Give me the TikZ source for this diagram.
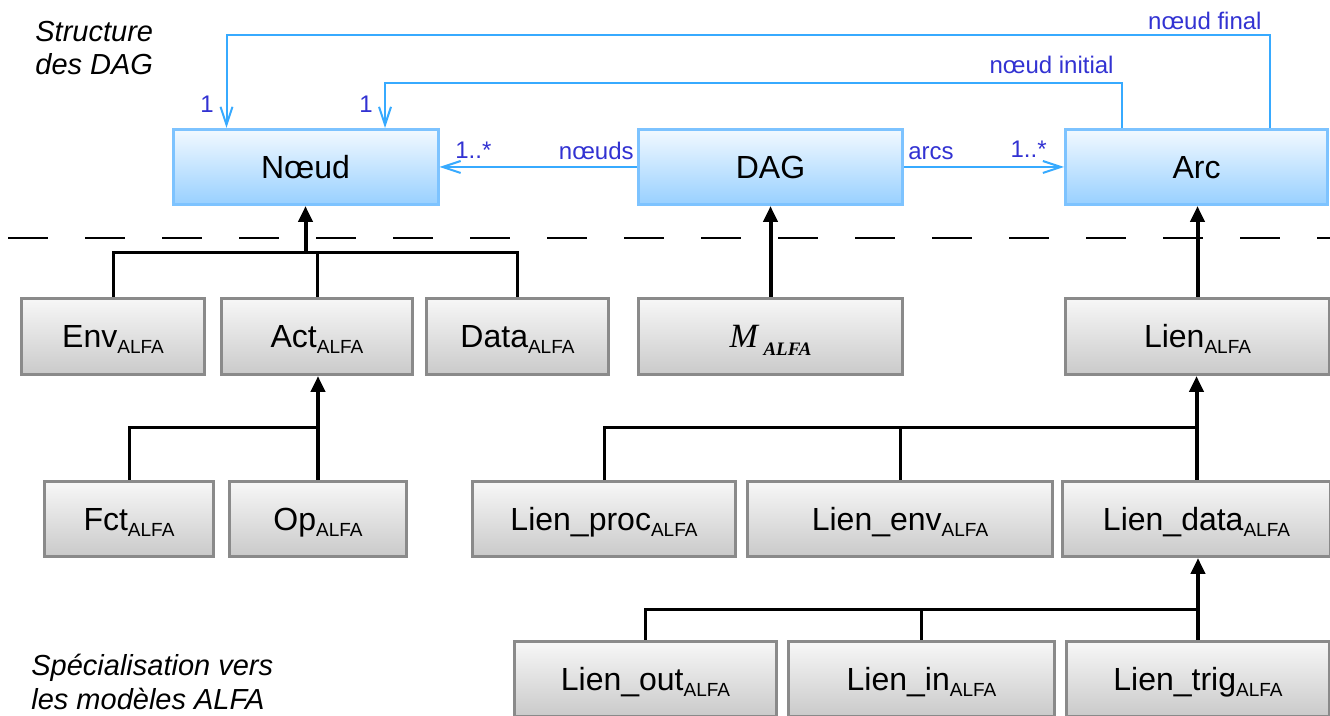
\documentclass[tikz,border=0pt]{standalone}
\usepackage{fontspec}
\setmainfont{Liberation Sans}
\newfontfamily\timesfont{Liberation Serif}
\usetikzlibrary{arrows.meta}
\definecolor{bleucadre}{RGB}{125,195,255}
\definecolor{bleuhaut}{RGB}{242,249,255}
\definecolor{bleubas}{RGB}{152,208,255}
\definecolor{griscadre}{RGB}{138,138,138}
\definecolor{grishaut}{RGB}{247,247,247}
\definecolor{grisbas}{RGB}{202,202,202}
\definecolor{bleulien}{RGB}{55,170,255}
\definecolor{bleutexte}{RGB}{50,50,210}
\newcommand{\ALFA}{\raisebox{-3pt}{\fontsize{9.5}{9.5}\selectfont ALFA}}
\tikzset{
  classe/.style={draw=bleucadre, line width=1.5pt, top color=bleuhaut, bottom color=bleubas,
    minimum height=37.5pt, inner sep=0pt, font=\fontsize{16}{16}\selectfont,
    text height=11.5pt, text depth=0pt},
  alfa/.style={draw=griscadre, line width=1.5pt, top color=grishaut, bottom color=grisbas,
    minimum height=37.5pt, inner sep=0pt, font=\fontsize{16}{16}\selectfont,
    text height=11.5pt, text depth=0pt},
  herite/.style={-{Triangle[length=8pt,width=7pt]}, line width=2pt},
  bus/.style={line width=1.5pt},
  assoc/.style={-{Straight Barb[length=9pt,width=6pt]}, color=bleulien, line width=1pt},
  role/.style={text=bleutexte, font=\fontsize{12}{12}\selectfont, inner sep=0pt},
  titre/.style={font=\fontsize{14.5}{16.5}\selectfont\itshape, align=left, inner sep=0pt}
}
\begin{document}
\begin{tikzpicture}[line cap=butt,line join=miter,x=0.5pt,y=-0.5pt]
\clip (0,0) rectangle (1330,716);
% structure des DAG
\node[classe, minimum width=132.5pt] (Noeud) at (305.5,167) {Nœud};
\node[classe, minimum width=132pt] (DAG) at (770.5,167) {DAG};
\node[classe, minimum width=131pt] (Arc) at (1196.5,167) {Arc};
\draw[line width=0.75pt, dash pattern=on 20pt off 18.5pt] (8,238) -- (1330,238);
% specialisation ALFA
\node[alfa, minimum width=91.5pt, minimum height=38pt] (Env) at (113,336.5) {Env\ALFA};
\node[alfa, minimum width=95.5pt, minimum height=38pt] (Act) at (317,336.5) {Act\ALFA};
\node[alfa, minimum width=91pt, minimum height=38pt] (Data) at (517.5,336.5) {Data\ALFA};
\node[alfa, minimum width=132pt, minimum height=38pt] (Malfa) at (770.5,336.5)
  {\timesfont\itshape\fontsize{17}{17}\selectfont M\,\raisebox{-4pt}{\bfseries\fontsize{9.5}{9.5}\selectfont ALFA}};
\node[alfa, minimum width=132pt, minimum height=38pt] (Lien) at (1197.5,336.5) {Lien\ALFA};
\node[alfa, minimum width=84.5pt] (Fct) at (129,519) {Fct\ALFA};
\node[alfa, minimum width=88.5pt] (Op) at (318,519) {Op\ALFA};
\node[alfa, minimum width=131.5pt] (Lproc) at (604,519) {Lien\_proc\ALFA};
\node[alfa, minimum width=152.5pt] (Lenv) at (900,519) {Lien\_env\ALFA};
\node[alfa, minimum width=134pt] (Ldata) at (1196.5,519) {Lien\_data\ALFA};
\node[alfa, minimum width=131pt] (Lout) at (645.5,679) {Lien\_out\ALFA};
\node[alfa, minimum width=133pt] (Lin) at (921.5,679) {Lien\_in\ALFA};
\node[alfa, minimum width=131.5pt] (Ltrig) at (1198,679) {Lien\_trig\ALFA};
% bus d'heritage
\coordinate (busNoeud) at (0,253);
\coordinate (busAct) at (0,428);
\coordinate (busLien) at (0,428);
\coordinate (busData) at (0,610);
\draw[bus] (Env.north) |- (Data.north |- busNoeud) -- (Data.north);
\draw[bus] (Act.north) -- (Act.north |- busNoeud);
\draw[herite] (Noeud.south |- busNoeud) -- (Noeud.south);
\draw[bus] (Fct.north) |- (Op.north |- busAct);
\draw[herite] (Op.north) -- (Op.north |- Act.south);
\draw[herite] (Malfa.north) -- (DAG.south);
\draw[herite] (Lien.north) -- (Lien.north |- Arc.south);
\draw[bus] (Lproc.north) |- (Ldata.north |- busLien);
\draw[bus] (Lenv.north) -- (Lenv.north |- busLien);
\draw[herite] (Ldata.north) -- (Ldata.north |- Lien.south);
\draw[bus] (Lout.north) |- (Ltrig.north |- busData);
\draw[bus] (Lin.north) -- (Lin.north |- busData);
\draw[herite] (Ltrig.north) -- (Ltrig.north |- Ldata.south);
% associations
\coordinate (finD) at (1270,35);
\coordinate (finG) at (226.5,35);
\coordinate (iniD) at (1122,83);
\coordinate (iniG) at (385,83);
\draw[assoc] (Arc.north -| finD) -- (finD) -- (finG) -- (Noeud.north -| finG);
\draw[assoc] (Arc.north -| iniD) -- (iniD) -- (iniG) -- (Noeud.north -| iniG);
\draw[assoc] (DAG.west) -- (Noeud.east);
\draw[assoc] (DAG.east) -- (Arc.west);
\node[role, anchor=south east] (lnoeuds) at (634,160) {nœuds};
\node[role, anchor=south west] (lmultN) at (455,159) {1..*};
\node[role, anchor=south west] (larcs) at (908,160) {arcs};
\node[role, anchor=south east] (lmultA) at (1047,158) {1..*};
\node[role, anchor=south east] (lini) at (1114,74) {nœud initial};
\node[role, anchor=south east] (lfin) at (1262,30.5) {nœud final};
\node[role, anchor=south] (lun1) at (207,113) {1};
\node[role, anchor=south] (lun2) at (366,113) {1};
% legendes
\node[titre, anchor=base west] (tstruct) at (35,74.5) {Structure\\des DAG};
\node[titre, anchor=base west, font=\fontsize{14.5}{17}\selectfont\itshape] (tspec) at (31,710)
  {Spécialisation vers\\les modèles ALFA};
\end{tikzpicture}
\end{document}
